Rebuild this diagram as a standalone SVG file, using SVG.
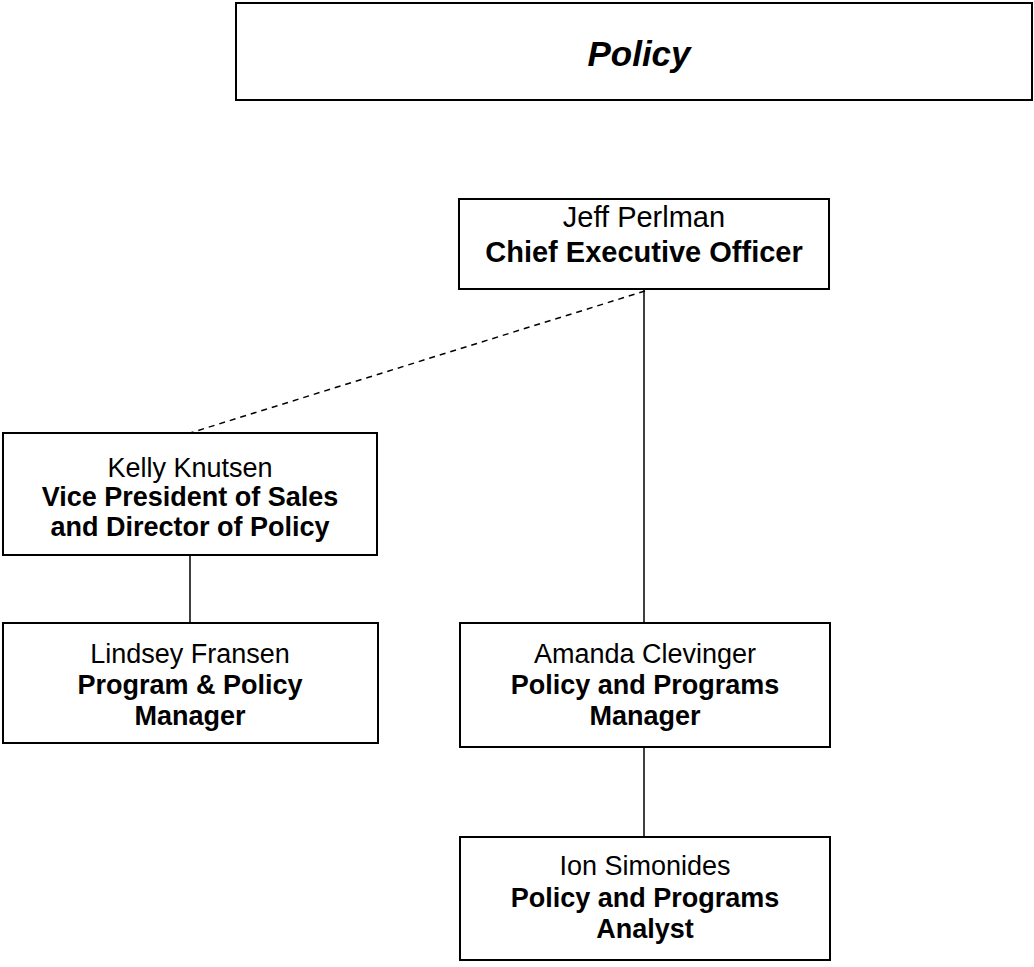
<svg xmlns="http://www.w3.org/2000/svg" width="1034" height="967" viewBox="0 0 1034 967">
<style>
.box{fill:#fff;stroke:#000;stroke-width:2}
.t{font-family:"Liberation Sans",Arial,sans-serif;font-size:27px;text-anchor:middle;fill:#000}
.big{font-size:29px}
.b{font-weight:bold}
.ln{stroke:#000;stroke-width:1.5;fill:none}
.dash{stroke:#000;stroke-width:1.5;fill:none;stroke-dasharray:6,5}
</style>
<rect width="1034" height="967" fill="#fff"/>
<g id="title">
<rect class="box" x="236" y="3" width="796" height="97"/>
<text x="639" y="66" style="font-family:'Liberation Sans',Arial,sans-serif;font-size:35px;font-weight:bold;font-style:italic;text-anchor:middle">Policy</text>
</g>
<g id="connectors">
<line class="ln" x1="644" y1="289" x2="644" y2="623"/>
<line class="ln" x1="644" y1="747" x2="644" y2="837"/>
<line class="ln" x1="190" y1="555" x2="190" y2="623"/>
<line class="dash" x1="645" y1="291" x2="190" y2="433"/>
</g>
<g id="ceo">
<rect class="box" x="459" y="199" width="370" height="90"/>
<text class="t big" x="644" y="227">Jeff Perlman</text>
<text class="t big b" x="644" y="262">Chief Executive Officer</text>
</g>
<g id="kelly">
<rect class="box" x="3" y="433" width="374" height="122"/>
<text class="t" x="190" y="477">Kelly Knutsen</text>
<text class="t b" x="190" y="506">Vice President of Sales</text>
<text class="t b" x="190" y="536">and Director of Policy</text>
</g>
<g id="lindsey">
<rect class="box" x="3" y="623" width="375" height="120"/>
<text class="t" x="190" y="663">Lindsey Fransen</text>
<text class="t b" x="190" y="694">Program &amp; Policy</text>
<text class="t b" x="190" y="725">Manager</text>
</g>
<g id="amanda">
<rect class="box" x="460" y="623" width="370" height="124"/>
<text class="t" x="645" y="663">Amanda Clevinger</text>
<text class="t b" x="645" y="694">Policy and Programs</text>
<text class="t b" x="645" y="725">Manager</text>
</g>
<g id="ion">
<rect class="box" x="460" y="837" width="370" height="123"/>
<text class="t" x="645" y="875">Ion Simonides</text>
<text class="t b" x="645" y="907">Policy and Programs</text>
<text class="t b" x="645" y="938">Analyst</text>
</g>
</svg>
